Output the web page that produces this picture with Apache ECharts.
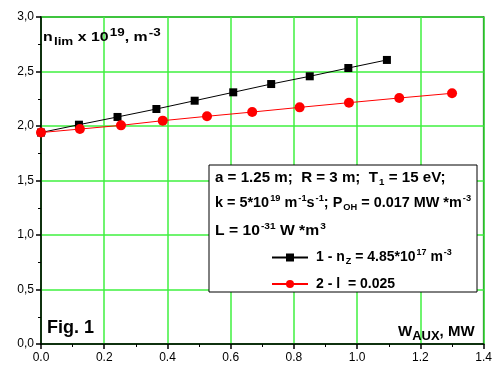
<!DOCTYPE html>
<html>
<head>
<meta charset="utf-8">
<script src="https://cdn.jsdelivr.net/npm/echarts@6/dist/echarts.min.js"></script>
<style>
  html, body { margin: 0; padding: 0; background: #fff; }
  #chart { width: 495px; height: 365px; }
</style>
</head>
<body>
<div id="chart"></div>
<script>
// n_lim vs W_AUX, two cases
const wAux1 = [0, 0.12, 0.242, 0.365, 0.486, 0.608, 0.728, 0.85, 0.972, 1.094];
const nLim1 = [1.94, 2.012, 2.083, 2.156, 2.232, 2.309, 2.385, 2.456, 2.532, 2.606];
const wAux2 = [0, 0.123, 0.253, 0.385, 0.525, 0.668, 0.818, 0.974, 1.133, 1.3];
const nLim2 = [1.94, 1.972, 2.006, 2.049, 2.089, 2.128, 2.171, 2.214, 2.257, 2.3];
const seriesNames = ["1", "2"];
const legendLabels = {
  "1": "{t|1 - n}{sub|Z}{t| = 4.85*10}{sup|17}{t| m}{sup|-3}",
  "2": "{t|2 - l  = 0.025}"
};

const font = "Liberation Sans, Arial, sans-serif";
const rich = (size, small, up, down) => ({
  t: { fontSize: size, fontWeight: "bold", fontFamily: font, color: "#000" },
  sup: { fontSize: small, fontWeight: "bold", fontFamily: font, color: "#000", padding: [0, 0, up, 1] },
  sub: { fontSize: small, fontWeight: "bold", fontFamily: font, color: "#000", padding: [down, 0, 0, 1] }
});
const boxRich = rich(14, 9, 10, 8);

const option = {
  animation: false,
  grid: {
    left: 41, right: 8, top: 17, bottom: 21,
    show: true, borderColor: "#000", borderWidth: 1.5
  },
  xAxis: {
    type: "value", min: 0, max: 1.4, interval: 0.2,
    axisLine: { show: true, lineStyle: { color: "#000", width: 1.5 } },
    axisTick: { show: true, length: 5, lineStyle: { color: "#000", width: 1.5 } },
    minorTick: { show: true, splitNumber: 2, length: 3, lineStyle: { color: "#000" } },
    splitLine: { show: true, lineStyle: { color: "#3ff03f", width: 1.5 } },
    axisLabel: {
      fontSize: 12, fontFamily: font, color: "#000", margin: 8,
      formatter: v => v.toFixed(1)
    }
  },
  yAxis: {
    type: "value", min: 0, max: 3, interval: 0.5,
    axisLine: { show: true, lineStyle: { color: "#000", width: 1.5 } },
    axisTick: { show: true, length: 5, lineStyle: { color: "#000", width: 1.5 } },
    minorTick: { show: true, splitNumber: 2, length: 3, lineStyle: { color: "#000" } },
    splitLine: { show: true, lineStyle: { color: "#3ff03f", width: 1.5 } },
    axisLabel: {
      fontSize: 12, fontFamily: font, color: "#000", margin: 7,
      formatter: v => v.toFixed(1).replace(".", ",")
    }
  },
  legend: {
    data: seriesNames,
    orient: "vertical",
    left: 271, top: 248, padding: 0,
    itemWidth: 36, itemHeight: 10, itemGap: 11,
    z: 20,
    formatter: name => legendLabels[name],
    textStyle: { rich: boxRich, padding: [0, 0, 0, 3] }
  },
  graphic: [
    {
      type: "rect", z: 15,
      shape: { x: 209, y: 165, width: 268, height: 127 },
      style: { fill: "#fff", stroke: "#000", lineWidth: 1 }
    },
    {
      type: "text", z: 16, x: 215, y: 170, scaleX: 1.08,
      style: {
        text: "{t|a = 1.25 m;  R = 3 m;  T}{sub|1}{t| = 15 eV;}",
        rich: boxRich
      }
    },
    {
      type: "text", z: 16, x: 215, y: 194, scaleX: 1.03,
      style: {
        text: "{t|k = 5*10}{sup|19}{t| m}{sup|-1}{t|s}{sup|-1}{t|; P}{sub|OH}{t| = 0.017 MW *m}{sup|-3}",
        rich: boxRich
      }
    },
    {
      type: "text", z: 16, x: 215, y: 222, scaleX: 1.12,
      style: {
        text: "{t|L = 10}{sup|-31}{t| W *m}{sup|3}",
        rich: boxRich
      }
    },
    {
      type: "text", z: 16, x: 43, y: 27, scaleX: 1.22,
      style: {
        text: "{t|n}{sub|lim}{t| x 10}{sup|19}{t|, m}{sup|-3}",
        rich: rich(13, 11, 10, 8)
      }
    },
    {
      type: "text", z: 16, x: 47, y: 319,
      style: { text: "Fig. 1", font: "bold 18px " + font, fill: "#000" }
    },
    {
      type: "text", z: 16, x: 398, y: 320,
      style: {
        text: "{t|W}{sub|AUX}{t|, MW}",
        rich: {
          t: { fontSize: 15, fontWeight: "bold", fontFamily: font, color: "#000" },
          sub: { fontSize: 13, fontWeight: "bold", fontFamily: font, color: "#000", padding: [10, 0, 0, 0] }
        }
      }
    }
  ],
  series: [
    {
      name: seriesNames[0], type: "line",
      data: wAux1.map((x, i) => [x, nLim1[i]]),
      symbol: "rect", symbolSize: 8,
      itemStyle: { color: "#000" },
      lineStyle: { color: "#000", width: 1 },
      z: 3
    },
    {
      name: seriesNames[1], type: "line",
      data: wAux2.map((x, i) => [x, nLim2[i]]),
      symbol: "circle", symbolSize: 10,
      itemStyle: { color: "#ff0000" },
      lineStyle: { color: "#ff0000", width: 1 },
      z: 4
    }
  ]
};

const chart = echarts.init(document.getElementById("chart"));
chart.setOption(option);
window.addEventListener("resize", () => chart.resize());
</script>
</body>
</html>
